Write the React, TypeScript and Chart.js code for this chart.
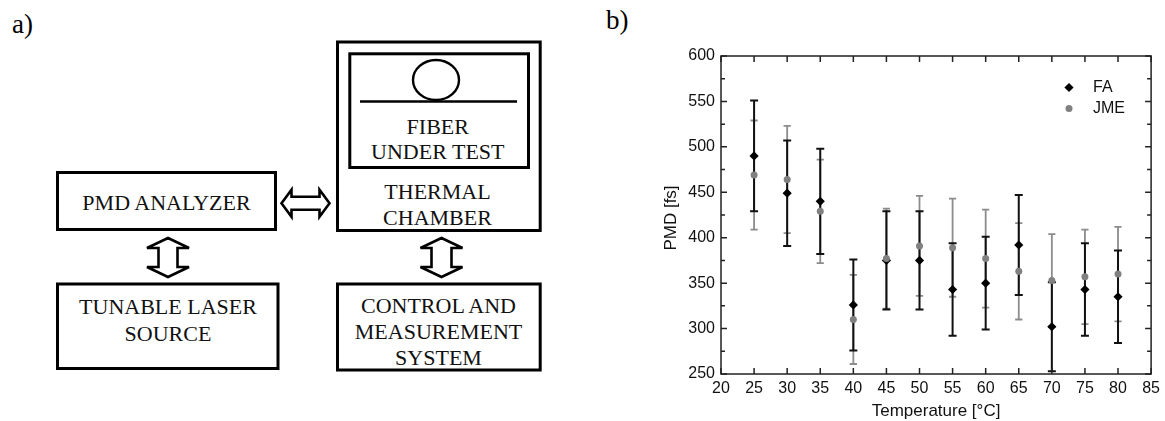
import React, { useEffect, useRef } from "react";
import { Chart, registerables } from "chart.js";

Chart.register(...registerables);

// ---- data ----
const temperatures = [25, 30, 35, 40, 45, 50, 55, 60, 65, 70, 75, 80];
const faPmd = [490, 449, 440, 326, 375, 375, 343, 350, 392, 302, 343, 335];
const faErr = [61, 58, 58, 50, 54, 54, 51, 51, 55, 49, 51, 51];
const jmePmd = [469, 464, 429, 310, 377, 391, 389, 377, 363, 353, 357, 360];
const jmeErr = [60, 59, 57, 49, 55, 55, 54, 54, 53, 51, 52, 52];
const xTickValues = [20, 25, 30, 35, 40, 45, 50, 55, 60, 65, 70, 75, 80, 85];
const yTickValues = [250, 300, 350, 400, 450, 500, 550, 600];
const yMinorTicks = [275, 325, 375, 425, 475, 525, 575];
const seriesNames = ["FA", "JME"];
const xTitle = "Temperature [°C]";
const yTitle = "PMD [fs]";

const SANS = "'Liberation Sans', Arial, Helvetica, sans-serif";
const SERIF = "'Liberation Serif', 'Times New Roman', Times, serif";

const FA_COLOR = "#000000";
const JME_COLOR = "#808080";
const JME_BAR = "#8c8c8c";
const AXIS_COLOR = "#222222";

const errorBarPlugin = {
  id: "errorBars",
  beforeDatasetsDraw(chart: any) {
    const { ctx } = chart;
    const xs = chart.scales.x;
    const ys = chart.scales.y;
    const draw = (means: number[], errs: number[], color: string, lw: number, cap: number) => {
      ctx.save();
      ctx.strokeStyle = color;
      ctx.lineWidth = lw;
      temperatures.forEach((t, i) => {
        const px = xs.getPixelForValue(t);
        const top = ys.getPixelForValue(means[i] + errs[i]);
        const bot = ys.getPixelForValue(means[i] - errs[i]);
        ctx.beginPath();
        ctx.moveTo(px, top);
        ctx.lineTo(px, bot);
        ctx.moveTo(px - cap, top);
        ctx.lineTo(px + cap, top);
        ctx.moveTo(px - cap, bot);
        ctx.lineTo(px + cap, bot);
        ctx.stroke();
      });
      ctx.restore();
    };
    draw(jmePmd, jmeErr, JME_BAR, 1.8, 3.6);
    draw(faPmd, faErr, "#111111", 2, 4);
  },
};

const framePlugin = {
  id: "frameAndText",
  afterDraw(chart: any) {
    const { ctx, chartArea } = chart;
    const { left, right, top, bottom } = chartArea;
    const xs = chart.scales.x;
    const ys = chart.scales.y;
    ctx.save();
    ctx.strokeStyle = AXIS_COLOR;
    ctx.lineWidth = 1.5;
    ctx.strokeRect(left, top, right - left, bottom - top);
    ctx.beginPath();
    xTickValues.forEach((v) => {
      const px = xs.getPixelForValue(v);
      ctx.moveTo(px, bottom);
      ctx.lineTo(px, bottom - 6);
      ctx.moveTo(px, top);
      ctx.lineTo(px, top + 6);
    });
    yTickValues.forEach((v) => {
      const py = ys.getPixelForValue(v);
      ctx.moveTo(left, py);
      ctx.lineTo(left + 6, py);
      ctx.moveTo(right, py);
      ctx.lineTo(right - 6, py);
    });
    yMinorTicks.forEach((v) => {
      const py = ys.getPixelForValue(v);
      ctx.moveTo(left, py);
      ctx.lineTo(left + 4, py);
      ctx.moveTo(right, py);
      ctx.lineTo(right - 4, py);
    });
    ctx.stroke();

    // axis titles
    ctx.fillStyle = "#111111";
    ctx.font = `17px ${SANS}`;
    ctx.textAlign = "center";
    ctx.textBaseline = "middle";
    ctx.fillText(xTitle, (left + right) / 2, 411);
    ctx.save();
    ctx.translate(71.5, (top + bottom) / 2 + 3);
    ctx.rotate(-Math.PI / 2);
    ctx.fillText(yTitle, 0, 0);
    ctx.restore();

    // legend
    const lx = 469;
    const ly1 = 87.5;
    const ly2 = 108.5;
    ctx.fillStyle = FA_COLOR;
    ctx.beginPath();
    ctx.moveTo(lx - 4.6, ly1);
    ctx.lineTo(lx, ly1 - 4.6);
    ctx.lineTo(lx + 4.6, ly1);
    ctx.lineTo(lx, ly1 + 4.6);
    ctx.closePath();
    ctx.fill();
    ctx.fillStyle = JME_COLOR;
    ctx.beginPath();
    ctx.arc(lx, ly2, 3.5, 0, Math.PI * 2);
    ctx.fill();
    ctx.fillStyle = "#111111";
    ctx.font = `16px ${SANS}`;
    ctx.textAlign = "left";
    ctx.fillText(seriesNames[0], 493, ly1);
    ctx.fillText(seriesNames[1], 493, ly2);
    ctx.restore();
  },
};

function PmdChart() {
  const ref = useRef<HTMLCanvasElement | null>(null);
  useEffect(() => {
    if (!ref.current) return;
    const chart = new Chart(ref.current, {
      type: "scatter",
      data: {
        datasets: [
          {
            label: seriesNames[1],
            data: temperatures.map((t, i) => ({ x: t, y: jmePmd[i] })),
            pointStyle: "circle",
            pointRadius: 3.5,
            pointBackgroundColor: JME_COLOR,
            pointBorderWidth: 0,
            showLine: false,
          },
          {
            label: seriesNames[0],
            data: temperatures.map((t, i) => ({ x: t, y: faPmd[i] })),
            pointStyle: "rectRot",
            pointRadius: 4.6,
            pointBackgroundColor: FA_COLOR,
            pointBorderWidth: 0,
            showLine: false,
          },
        ],
      },
      options: {
        responsive: false,
        animation: false,
        devicePixelRatio: 1,
        events: [],
        layout: { padding: { left: 0, right: 13, top: 56, bottom: 0 } },
        plugins: { legend: { display: false }, tooltip: { enabled: false } },
        scales: {
          x: {
            type: "linear",
            position: "bottom",
            min: 20,
            max: 85,
            afterBuildTicks: (s: any) => {
              s.ticks = xTickValues.map((v) => ({ value: v }));
            },
            afterFit: (s: any) => {
              s.height = 47;
            },
            grid: { display: false, drawTicks: false, tickLength: 0 },
            border: { display: false },
            ticks: {
              padding: 5,
              autoSkip: false,
              maxRotation: 0,
              color: "#111111",
              font: { family: SANS, size: 16 },
            },
          },
          y: {
            type: "linear",
            min: 250,
            max: 600,
            afterBuildTicks: (s: any) => {
              s.ticks = yTickValues.map((v) => ({ value: v }));
            },
            afterFit: (s: any) => {
              s.width = 121;
            },
            grid: { display: false, drawTicks: false, tickLength: 0 },
            border: { display: false },
            ticks: {
              padding: 6,
              autoSkip: false,
              color: "#111111",
              font: { family: SANS, size: 16 },
            },
          },
        },
      },
      plugins: [errorBarPlugin, framePlugin],
    } as any);
    return () => chart.destroy();
  }, []);
  return (
    <canvas
      ref={ref}
      width={565}
      height={421}
      style={{ position: "absolute", left: 600, top: 0, width: 565, height: 421 }}
    />
  );
}

function arrowV(cx: number, y1: number, y2: number, hh: number, hl: number, sh: number) {
  const p = [
    [cx, y1], [cx + hh, y1 + hl], [cx + sh, y1 + hl], [cx + sh, y2 - hl], [cx + hh, y2 - hl],
    [cx, y2], [cx - hh, y2 - hl], [cx - sh, y2 - hl], [cx - sh, y1 + hl], [cx - hh, y1 + hl],
  ];
  return p.map((q) => q.join(",")).join(" ");
}
function arrowH(cy: number, x1: number, x2: number, hh: number, hl: number, sh: number) {
  const p = [
    [x1, cy], [x1 + hl, cy - hh], [x1 + hl, cy - sh], [x2 - hl, cy - sh], [x2 - hl, cy - hh],
    [x2, cy], [x2 - hl, cy + hh], [x2 - hl, cy + sh], [x1 + hl, cy + sh], [x1 + hl, cy + hh],
  ];
  return p.map((q) => q.join(",")).join(" ");
}

function Diagram() {
  const txt = { fontFamily: SERIF, fontSize: 22, fill: "#111", textAnchor: "middle" as const };
  const box = { fill: "none", stroke: "#000", strokeWidth: 3 };
  const arr = { fill: "#fff", stroke: "#000", strokeWidth: 2.6, strokeLinejoin: "miter" as const };
  return (
    <svg width={1165} height={421} style={{ position: "absolute", left: 0, top: 0 }}>
      <text x={12} y={33} style={{ fontFamily: SERIF, fontSize: 27, fill: "#000" }}>a)</text>
      <text x={606} y={29} style={{ fontFamily: SERIF, fontSize: 27, fill: "#000" }}>b)</text>

      <rect x={57.5} y={172.5} width={218} height={57} {...box} />
      <text x={166.5} y={209.5} {...txt}>PMD ANALYZER</text>

      <rect x={57.5} y={284} width={220.5} height={84.5} {...box} />
      <text x={168} y={314.3} {...txt}>TUNABLE LASER</text>
      <text x={168} y={340.7} {...txt}>SOURCE</text>

      <rect x={337.5} y={42} width={202.7} height={188.5} {...box} />
      <rect x={349.8} y={53.8} width={178.7} height={113.7} {...box} />
      <ellipse cx={436} cy={80} rx={23} ry={20} fill="none" stroke="#000" strokeWidth={2.4} />
      <line x1={360} y1={101.5} x2={517} y2={101.5} stroke="#000" strokeWidth={2.4} />
      <text x={437.8} y={134} {...txt}>FIBER</text>
      <text x={437.8} y={159.3} {...txt}>UNDER TEST</text>
      <text x={437.5} y={199.3} {...txt}>THERMAL</text>
      <text x={437.5} y={225} {...txt}>CHAMBER</text>

      <rect x={337.5} y={284} width={202.7} height={86} {...box} />
      <text x={438.5} y={312.7} {...txt}>CONTROL AND</text>
      <text x={438.5} y={339.3} {...txt}>MEASUREMENT</text>
      <text x={438.5} y={365} {...txt}>SYSTEM</text>

      <polygon points={arrowV(168, 238, 277, 21, 10, 9.5)} {...arr} />
      <polygon points={arrowV(441.5, 238, 277, 21, 10, 10)} {...arr} />
      <polygon points={arrowH(203.3, 281.5, 329.5, 13.5, 10, 6.5)} {...arr} />
    </svg>
  );
}

export default function App() {
  return (
    <div
      style={{
        position: "absolute",
        left: 0,
        top: 0,
        width: 1165,
        height: 421,
        background: "#ffffff",
        overflow: "hidden",
      }}
    >
      <Diagram />
      <PmdChart />
    </div>
  );
}
